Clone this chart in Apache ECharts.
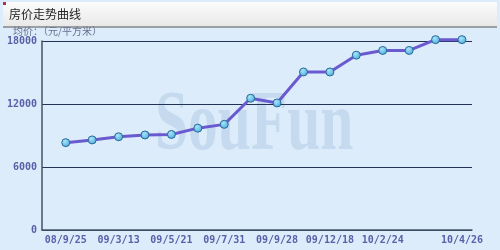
<!DOCTYPE html>
<html><head><meta charset="utf-8">
<script src="https://cdn.jsdelivr.net/npm/echarts@6/dist/echarts.min.js"></script>
<style>html,body{margin:0;padding:0;background:#dcecfa;}#c{width:500px;height:250px;}</style>
</head><body><div id="c"></div>
<script>
var categories = ['08/9/25','','09/3/13','','09/5/21','','09/7/31','','09/9/28','','09/12/18','','10/2/24','','','10/4/26'];
var prices = [8320,8580,8880,9050,9100,9700,10060,12550,12100,15050,15050,16650,17100,17100,18130,18130];
var yTicks = [0,6000,12000,18000];
var labelIdx = [0,2,4,6,8,10,12,15];
var titleText = '房价走势曲线';
var yName = '均价：（元/平方米）';

var chart = echarts.init(document.getElementById('c'), null, {renderer:'canvas'});
var axisFont = {color:'#5a5fa8', fontFamily:'DejaVu Sans Mono', fontWeight:'bold', fontSize:10};
chart.setOption({
  backgroundColor:'#dcecfa',
  animation:false,
  graphic:[
    {type:'rect', shape:{x:3,y:2,width:494,height:25},
     style:{fill:new echarts.graphic.LinearGradient(0,0,0,1,[{offset:0,color:'#fbfbfb'},{offset:1,color:'#e8e8e8'}]), stroke:null}},
    {type:'line', shape:{x1:3,y1:27,x2:497,y2:27}, style:{stroke:'#555',lineWidth:1}},
    {type:'rect', shape:{x:3,y:2,width:3,height:3}, style:{fill:'#b03050'}},
    {type:'text', left:9, top:8, style:{text:titleText, fill:'#222', font:'12px "Noto Sans CJK SC"'}},
    {type:'text', left:13, top:26, style:{text:yName, fill:'#6a7090', font:'10px "Noto Sans CJK SC"'}},
    {type:'text', x:155, y:127, scaleX:0.7, z:-1, silent:true,
     style:{text:'SouFun', fill:'rgba(150,180,215,0.32)', font:'bold 85px "Liberation Serif"', verticalAlign:'middle', align:'left'}}
  ],
  grid:{left:42, right:28, top:41, bottom:20},
  xAxis:{type:'value', min:-0.9, max:15.38,
    axisLine:{show:true, onZero:false, lineStyle:{color:'#445566', width:1.5}},
    axisTick:{show:false}, splitLine:{show:false},
    axisLabel:Object.assign({customValues:labelIdx, margin:5, formatter:function(v){return categories[Math.round(v)];}}, axisFont)
  },
  yAxis:{type:'value', min:0, max:18000, interval:6000,
    axisLine:{show:true, onZero:false, lineStyle:{color:'#445566', width:1.5}},
    axisTick:{show:false},
    splitLine:{show:true, lineStyle:{color:'#223355', width:1}},
    axisLabel:Object.assign({margin:5, formatter:function(v){return yTicks.indexOf(v)>=0?String(v):'';}}, axisFont)
  },
  series:[{type:'line', clip:false, data:prices.map(function(v,i){return [i,v];}),
    lineStyle:{color:'#6a5ad0', width:3},
    symbol:'circle', symbolSize:8,
    itemStyle:{color:new echarts.graphic.RadialGradient(0.4,0.35,0.7,[{offset:0,color:'#a8e4f8'},{offset:1,color:'#48a8dc'}]), borderColor:'#2a6a98', borderWidth:1}
  }]
});
</script></body></html>
